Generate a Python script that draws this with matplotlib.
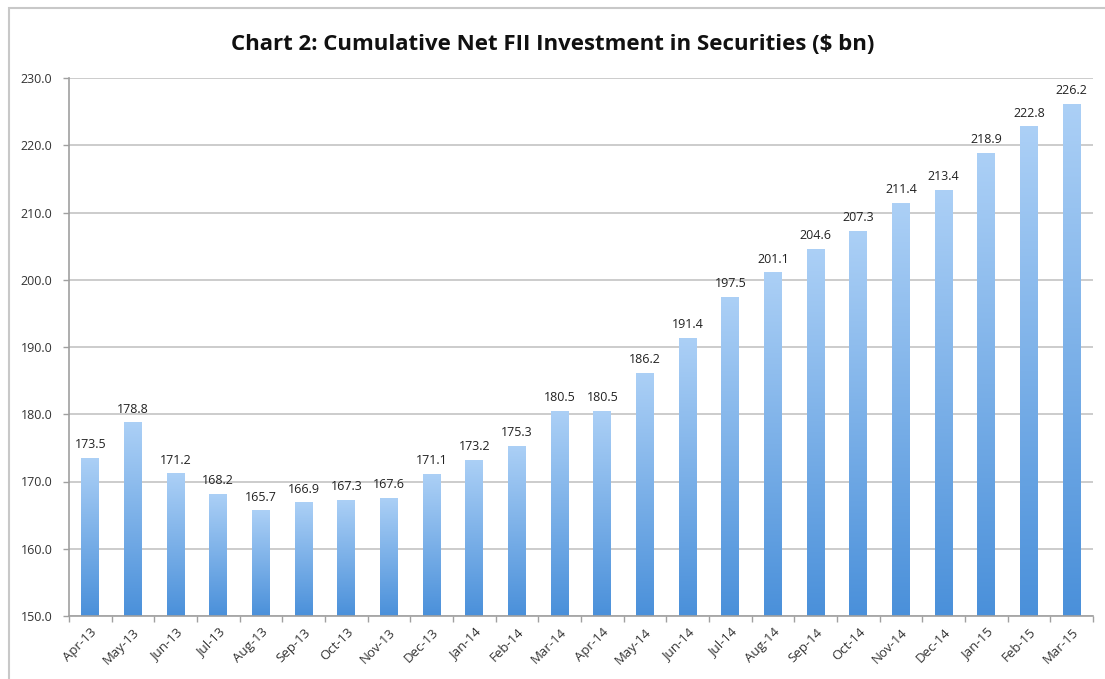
import numpy as np
import matplotlib
matplotlib.use("Agg")
import matplotlib.pyplot as plt
from matplotlib.colors import LinearSegmentedColormap
from matplotlib.patches import Rectangle

months = ["Apr-13", "May-13", "Jun-13", "Jul-13", "Aug-13", "Sep-13", "Oct-13", "Nov-13",
          "Dec-13", "Jan-14", "Feb-14", "Mar-14", "Apr-14", "May-14", "Jun-14", "Jul-14",
          "Aug-14", "Sep-14", "Oct-14", "Nov-14", "Dec-14", "Jan-15", "Feb-15", "Mar-15"]
values = [173.5, 178.8, 171.2, 168.2, 165.7, 166.9, 167.3, 167.6,
          171.1, 173.2, 175.3, 180.5, 180.5, 186.2, 191.4, 197.5,
          201.1, 204.6, 207.3, 211.4, 213.4, 218.9, 222.8, 226.2]
yticks = [150, 160, 170, 180, 190, 200, 210, 220, 230]
title = "Chart 2: Cumulative Net FII Investment in Securities ($ bn)"

plt.rcParams['font.family'] = ['Open Sans', 'DejaVu Sans']

fig = plt.figure(figsize=(11.05, 6.79), dpi=100)
fig.patch.set_facecolor("white")

# outer frame (only top/left visible in the reference)
fig.patches.append(Rectangle((9 / 1105, -0.05), 1.2, 1 - 8 / 679 + 0.05,
                             transform=fig.transFigure, fill=False,
                             edgecolor="#c8c8c8", linewidth=1.5, zorder=0))

ax = fig.add_axes([69 / 1105, 1 - 616 / 679, (1093 - 69) / 1105, (616 - 78) / 679])
ymin, ymax = 150, 230
ax.set_xlim(-0.5, len(months) - 0.5)
ax.set_ylim(ymin, ymax)

ax.set_yticks(yticks)
ax.set_yticklabels([f"{v:.1f}" for v in yticks], fontsize=9, color="#333333")
ax.yaxis.grid(True, color="#c4c4c4", linewidth=1.2)
ax.set_axisbelow(True)

ax.set_xticks(range(len(months)))
ax.set_xticklabels(months, rotation=45, ha="right", rotation_mode="anchor",
                   fontsize=9.5, color="#333333")
ax.tick_params(axis="x", length=0, pad=7)
ax.set_xticks(np.arange(-0.5, len(months), 1.0), minor=True)
ax.tick_params(axis="x", which="minor", length=4, color="#a0a0a0", width=1)
ax.tick_params(axis="y", length=4, color="#a0a0a0", width=1, pad=8)

for s in ["top", "right"]:
    ax.spines[s].set_visible(False)
ax.spines["left"].set_color("#a0a0a0")
ax.spines["bottom"].set_color("#a0a0a0")
ax.spines["left"].set_linewidth(1.2)
ax.spines["bottom"].set_linewidth(1.2)

cmap = LinearSegmentedColormap.from_list("g", ["#4a90da", "#acd0f6"])
grad = np.linspace(0, 1, 256).reshape(-1, 1)
width = 0.42
bars = ax.bar(range(len(months)), [v - ymin for v in values], bottom=ymin,
              width=width, color="none", edgecolor="none", zorder=2)
for i, (b, v) in enumerate(zip(bars, values)):
    x0 = i - width / 2
    im = ax.imshow(grad, cmap=cmap, origin="lower", aspect="auto",
                   extent=[x0, x0 + width, ymin, v], zorder=2)
    im.set_clip_path(b)
    ax.text(i, v + 1.0, f"{v:.1f}", ha="center", va="bottom", fontsize=9,
            color="#222222", zorder=3)

ax.set_xlim(-0.5, len(months) - 0.5)
ax.set_ylim(ymin, ymax)

fig.text(0.5, 1 - 45 / 679, title, ha="center", va="center", fontsize=16,
         fontweight="bold", color="#111111")

fig.savefig("out.png", dpi=100)
